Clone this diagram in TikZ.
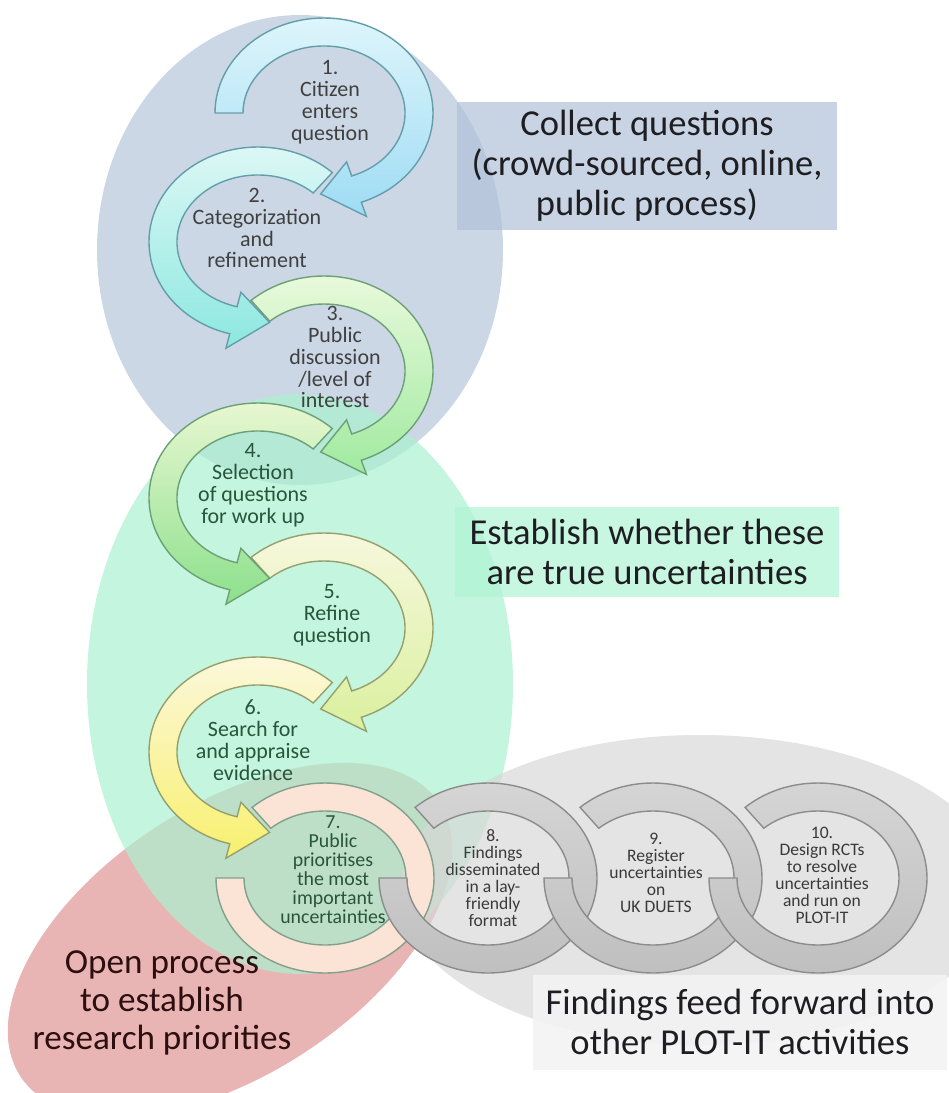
\documentclass[tikz,border=0pt]{standalone}
\usepackage{fontspec}
\setmainfont{Carlito}

\definecolor{blueblob}{RGB}{182,198,218}
\definecolor{greenblob}{RGB}{171,241,208}
\definecolor{redblob}{RGB}{222,148,148}
\definecolor{greyblob}{RGB}{216,216,216}
\definecolor{collectbg}{RGB}{176,194,215}
\definecolor{establishbg}{RGB}{176,244,212}
\definecolor{feedbg}{RGB}{243,243,243}
\definecolor{bigdark}{RGB}{30,30,34}
\definecolor{opentext}{RGB}{45,15,15}
\definecolor{stepgrey}{RGB}{64,64,64}
\definecolor{stepgreen}{RGB}{40,85,60}
\definecolor{ringtextgrey}{RGB}{58,58,58}
% arrow colours, light end and deep end
\definecolor{arronea}{RGB}{222,245,251}
\definecolor{arroneb}{RGB}{158,220,244}
\definecolor{arrtwoa}{RGB}{224,248,246}
\definecolor{arrtwob}{RGB}{140,232,224}
\definecolor{arrthreea}{RGB}{236,250,222}
\definecolor{arrthreeb}{RGB}{160,234,160}
\definecolor{arrfoura}{RGB}{236,248,212}
\definecolor{arrfourb}{RGB}{140,224,140}
\definecolor{arrfivea}{RGB}{248,248,224}
\definecolor{arrfiveb}{RGB}{218,240,158}
\definecolor{arrsixa}{RGB}{252,248,224}
\definecolor{arrsixb}{RGB}{248,240,110}
\definecolor{edgeblue}{RGB}{100,158,170}
\definecolor{edgegreen}{RGB}{110,160,120}
\definecolor{edgeyellow}{RGB}{150,160,110}
\definecolor{ringseven}{RGB}{251,228,214}
\definecolor{ringsevenedge}{RGB}{130,160,140}
\definecolor{ringgreya}{RGB}{214,214,214}
\definecolor{ringgreyb}{RGB}{190,190,190}
\definecolor{ringgreyedge}{RGB}{140,140,140}

\begin{document}
\begin{tikzpicture}[x=0.02cm,y=-0.02cm,
  blob/.style={fill=#1,fill opacity=0.7},
  labelbox/.style={fill=#1,fill opacity=0.7,text opacity=1,align=center,
    font=\fontsize{20.8}{22.8}\selectfont,text=bigdark},
  band/.style={draw=#1,line width=0.8pt},
  steptext/.style={align=center,font=\fontsize{12.5}{12.5}\selectfont},
  ringtext/.style={align=center,font=\fontsize{10}{9.7}\selectfont,text=ringtextgrey}]
\useasboundingbox (0,0) rectangle (948,1093);

% background blobs
\fill[blob=redblob,rotate around={33:(230,940)}] (230,940) ellipse[x radius=250,y radius=135];
\fill[blob=blueblob] (300,250) ellipse[x radius=203,y radius=235];
\fill[blob=greenblob] (300,684) ellipse[x radius=213,y radius=290];
\fill[blob=greyblob] (700,890) ellipse[x radius=300,y radius=155];

% phase labels
\node[labelbox=collectbg,minimum width=7.6cm,minimum height=2.56cm] (collect) at (647,166)
  {Collect questions\\(crowd-sourced, online,\\public process)};
\node[labelbox=establishbg,minimum width=7.7cm,minimum height=1.8cm] (establish) at (647,552)
  {Establish whether these\\are true uncertainties};
\node[labelbox=feedbg,fill opacity=0.9,minimum width=8.3cm,minimum height=1.9cm] (feedfwd) at (740,1022)
  {Findings feed forward into\\other PLOT-IT activities};
\node[align=center,font=\fontsize{20}{21.6}\selectfont,text=opentext] (openproc) at (162,1003)
  {Open process\\to establish\\research priorities};

% ring 7
\draw[band=ringsevenedge,fill=ringseven]
  ([shift={(325,878)}]228:109 and 95) arc[start angle=228,end angle=540,x radius=109,y radius=95]
  -- ([shift={(325,878)}]540:81 and 67) arc[start angle=540,end angle=228,x radius=81,y radius=67] -- cycle;

% curved arrows, last one first
\foreach \cx/\cy/\sa/\ea/\ta/\ca/\cb/\ce in {
  258/752/-47/-255/-277/arrsixa/arrsixb/edgeyellow,
  324/628/228/430/452/arrfivea/arrfiveb/edgeyellow,
  258/498/-47/-255/-277/arrfoura/arrfourb/edgegreen,
  324/371/228/430/452/arrthreea/arrthreeb/edgegreen,
  258/242/-47/-255/-277/arrtwoa/arrtwob/edgeblue,
  324/113/180/430/452/arronea/arroneb/edgeblue}
{
  \draw[band=\ce,top color=\ca,bottom color=\cb]
    ([shift={(\cx,\cy)}]\sa:109 and 95) arc[start angle=\sa,end angle=\ea,x radius=109,y radius=95]
    -- ([shift={(\cx,\cy)}]\ea:124 and 110)
    -- ([shift={(\cx,\cy)}]\ta:95 and 81)
    -- ([shift={(\cx,\cy)}]\ea:66 and 52)
    -- ([shift={(\cx,\cy)}]\ea:81 and 67)
    arc[start angle=\ea,end angle=\sa,x radius=81,y radius=67] -- cycle;
}

% rings 8 to 10
\foreach \cx in {488,653,818}
  \draw[band=ringgreyedge,top color=ringgreya,bottom color=ringgreyb]
    ([shift={(\cx,878)}]228:109 and 95) arc[start angle=228,end angle=540,x radius=109,y radius=95]
    -- ([shift={(\cx,878)}]540:81 and 67) arc[start angle=540,end angle=228,x radius=81,y radius=67] -- cycle;

% step texts
\node[steptext,text=stepgrey] (s1) at (330,102) {1.\\Citizen\\enters\\question};
\node[steptext,text=stepgrey] (s2) at (257,228) {2.\\Categorization\\and\\refinement};
\node[steptext,text=stepgrey] (s3) at (335,357) {3.\\Public\\discussion\\/level of\\interest};
\node[steptext,text=stepgreen] (s4) at (253,485) {4.\\Selection\\of questions\\for work up};
\node[steptext,text=stepgreen] (s5) at (332,615) {5.\\Refine\\question};
\node[steptext,text=stepgreen] (s6) at (253,740) {6.\\Search for\\and appraise\\evidence};
\node[steptext,text=stepgreen,font=\fontsize{11.3}{10.8}\selectfont] (s7) at (333,870)
  {7.\\Public\\prioritises\\the most\\important\\uncertainties};
\node[ringtext] (s8) at (493,878) {8.\\Findings\\disseminated\\in a lay-\\friendly\\format};
\node[ringtext] (s9) at (656,873) {9.\\Register\\uncertainties\\on\\UK DUETS};
\node[ringtext] (s10) at (822,875) {10.\\Design RCTs\\to resolve\\uncertainties\\and run on\\PLOT-IT};
\end{tikzpicture}
\end{document}
